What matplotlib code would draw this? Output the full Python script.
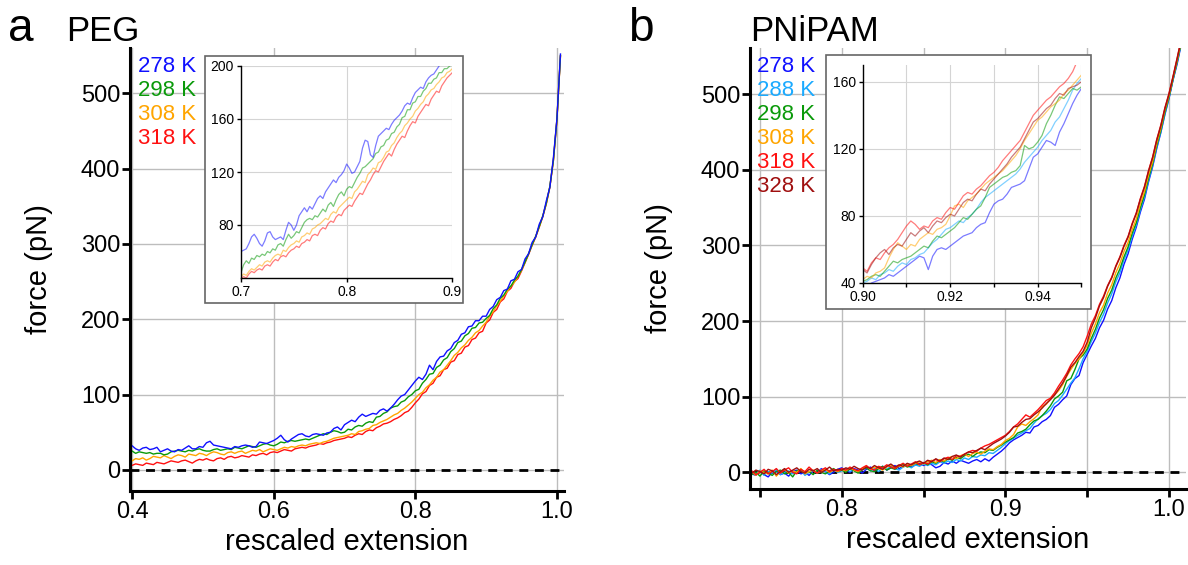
import numpy as np
import matplotlib
matplotlib.use('Agg')
import matplotlib.pyplot as plt
from matplotlib.patches import Rectangle
from matplotlib.ticker import MultipleLocator

plt.rcParams['font.family'] = ['Liberation Sans', 'DejaVu Sans']

W, H = 1188, 565


def fx(px):
    return px / W


def fy(py):
    return 1 - py / H


# ---------------- PEG (panel a), main curves, x = 0.400 .. 1.005 ----------------
peg_labels = ['278 K', '298 K', '308 K', '318 K']
peg_colors = ['#1010ff', '#0a9a0a', '#ffa500', '#ff1010']

peg_278 = [32, 28, 26, 29, 30, 27, 28, 30, 24, 26,
           28, 25, 24, 27, 26, 29, 32, 28, 28, 31,
           30, 36, 38, 33, 32, 31, 30, 29, 28, 31,
           30, 32, 33, 32, 30, 31, 37, 36, 35, 37,
           39, 42, 46, 40, 37, 41, 44, 47, 48, 45,
           44, 47, 48, 47, 46, 49, 50, 55, 57, 53,
           60, 63, 66, 64, 70, 74, 71, 73, 75, 74,
           79, 81, 78, 82, 87, 93, 98, 100, 106, 112,
           118, 123, 120, 127, 139, 133, 144, 150, 151, 158,
           161, 169, 172, 180, 182, 190, 191, 198, 198, 204,
           204, 213, 217, 226, 229, 238, 240, 251, 253, 263,
           266, 280, 287, 302, 309, 326, 336, 357, 375, 414, 466, 552]
peg_298 = [25, 22, 24, 23, 22, 23, 21, 22, 22, 20,
           21, 24, 25, 26, 25, 24, 26, 25, 27, 28,
           26, 25, 25, 27, 28, 26, 27, 28, 27, 30,
           29, 28, 30, 32, 31, 30, 32, 34, 35, 33,
           32, 34, 37, 36, 38, 39, 38, 39, 40, 41,
           40, 42, 44, 46, 48, 47, 50, 52, 51, 49,
           50, 54, 53, 57, 59, 58, 62, 64, 63, 70,
           71, 75, 77, 82, 84, 85, 90, 92, 97, 100,
           105, 107, 115, 120, 127, 128, 136, 139, 146, 149,
           157, 161, 169, 171, 178, 181, 188, 189, 195, 196,
           201, 205, 214, 219, 228, 232, 240, 244, 252, 257,
           266, 276, 287, 299, 310, 323, 337, 354, 376, 411, 465, 550]
peg_308 = [12, 15, 14, 16, 13, 15, 18, 17, 16, 19,
           17, 15, 18, 20, 19, 17, 21, 20, 19, 22,
           21, 19, 22, 24, 23, 21, 20, 23, 24, 22,
           24, 25, 22, 24, 26, 25, 27, 24, 26, 28,
           27, 26, 28, 30, 29, 31, 30, 32, 33, 32,
           34, 35, 36, 35, 37, 38, 40, 42, 43, 44,
           45, 46, 48, 47, 51, 52, 54, 55, 59, 60,
           63, 65, 67, 70, 73, 75, 79, 82, 86, 90,
           95, 100, 103, 109, 113, 119, 123, 130, 133, 139,
           145, 152, 156, 162, 166, 172, 176, 182, 185, 191,
           196, 204, 210, 218, 224, 231, 237, 244, 249, 257,
           265, 276, 287, 299, 310, 323, 337, 354, 376, 411, 465, 550]
peg_318 = [6, 8, 7, 6, 9, 8, 7, 10, 9, 8,
           10, 12, 11, 10, 12, 13, 11, 9, 12, 14,
           13, 15, 13, 12, 15, 16, 14, 17, 18, 16,
           17, 19, 18, 17, 20, 19, 21, 22, 20, 23,
           24, 23, 25, 27, 26, 25, 28, 29, 30, 29,
           31, 32, 33, 35, 34, 36, 37, 39, 40, 41,
           42, 44, 43, 46, 48, 47, 51, 53, 52, 56,
           58, 61, 62, 64, 67, 69, 72, 76, 78, 83,
           89, 94, 101, 104, 112, 115, 123, 125, 133, 135,
           143, 145, 153, 155, 163, 165, 173, 175, 182, 184,
           195, 199, 209, 213, 223, 227, 237, 241, 250, 254,
           264, 275, 286, 298, 309, 322, 336, 353, 375, 410, 464, 549]

# PEG inset, x = 0.700 .. 0.900
peg_in_278 = [60, 61, 62, 66, 71, 73, 70, 66, 64, 68,
              74, 75, 71, 69, 70, 71, 69, 76, 82, 80,
              76, 80, 87, 90, 93, 90, 94, 92, 96, 100,
              102, 100, 105, 108, 111, 114, 112, 116, 118, 121,
              126, 123, 119, 120, 124, 128, 138, 144, 143, 133,
              131, 140, 147, 149, 151, 153, 152, 156, 159, 161,
              163, 166, 170, 172, 171, 176, 180, 182, 184, 183,
              188, 191, 193, 194, 197, 200, 203, 205, 206, 207, 208]
peg_in_298 = [44, 50, 53, 51, 55, 54, 57, 56, 58, 57,
              60, 59, 62, 61, 65, 66, 64, 69, 73, 70,
              72, 75, 74, 78, 82, 84, 85, 84, 87, 86,
              89, 92, 90, 95, 97, 94, 99, 103, 105, 102,
              107, 109, 108, 112, 116, 119, 123, 124, 126, 128,
              130, 134, 135, 139, 140, 144, 145, 149, 150, 154,
              156, 161, 162, 167, 167, 172, 173, 177, 177, 181,
              183, 187, 187, 190, 191, 195, 195, 198, 198, 200, 201]
peg_in_308 = [41, 43, 42, 45, 47, 46, 48, 50, 49, 52,
              53, 52, 55, 57, 58, 57, 61, 60, 63, 65,
              66, 68, 67, 71, 72, 74, 73, 77, 78, 80,
              81, 83, 85, 84, 88, 90, 89, 93, 95, 97,
              99, 101, 100, 105, 107, 110, 113, 112, 118, 120,
              123, 122, 127, 128, 131, 135, 136, 140, 142, 146,
              149, 151, 155, 157, 160, 162, 166, 168, 171, 173,
              177, 179, 182, 183, 186, 188, 191, 192, 195, 196, 198]
peg_in_318 = [40, 41, 40, 43, 45, 44, 46, 47, 46, 49,
              50, 49, 52, 54, 53, 56, 57, 56, 59, 61,
              62, 64, 63, 66, 67, 69, 68, 72, 73, 72,
              76, 78, 77, 81, 83, 82, 86, 88, 87, 91,
              93, 95, 94, 98, 101, 104, 103, 107, 111, 114,
              118, 121, 120, 124, 128, 131, 134, 132, 137, 141,
              144, 147, 146, 151, 155, 158, 157, 162, 165, 168,
              171, 170, 175, 178, 181, 180, 185, 188, 191, 193, 195]

# ---------------- PNiPAM (panel b), main curves, x = 0.745 .. 1.010 ----------------
pni_labels = ['278 K', '288 K', '298 K', '308 K', '318 K', '328 K']
pni_colors = ['#1010ff', '#1aaaff', '#0a9a0a', '#ffa500', '#ff1010', '#a01010']

pni_278 = [-2, -4, 1, -3, -6, 0, 2, -3, -1, -5, 1, 3, -2, 0, -4, 2, -1, 5, 1, -3, 0, 4,
           6, 2, 0, 5, 3, -1, 4, 7, 2, 5, 8, 3, 6, 9, 5, 8, 11, 7, 10, 12,
           9, 12, 10, 6, 8, 13, 11, 15, 12, 16, 14, 12, 15, 17, 14, 18, 15, 20, 24, 28,
           33, 39, 43, 46, 49, 53, 52, 60, 62, 67, 70, 75, 86, 90, 96, 101, 116, 124, 128, 145,
           156, 167, 177, 191, 201, 216, 227, 244, 257, 275, 289, 308, 324, 344, 361, 384,
           404, 428, 449, 473, 494, 519, 540, 566, 590]
pni_288 = [0, -2, 3, -4, 1, -1, 4, -3, 0, 2, -2, 1, 3, -4, 0, 2, -1, 4, 1, -2, 3, 0,
           2, 5, 1, 4, 0, 3, 6, 2, 5, 1, 6, 4, 8, 5, 3, 7, 9, 6, 10, 8,
           11, 9, 12, 10, 14, 12, 15, 13, 17, 15, 19, 17, 21, 20, 23, 22, 26, 25, 29, 33,
           38, 42, 45, 49, 52, 55, 58, 65, 71, 75, 78, 83, 91, 95, 102, 110, 118, 125, 137, 150,
           160, 173, 184, 198, 209, 224, 236, 252, 264, 281, 294, 312, 327, 347, 364, 386,
           406, 430, 450, 474, 495, 519, 542, 567, 592]
pni_298 = [-3, 0, -5, 2, -1, -4, 1, 3, -2, 0, -6, 2, 4, -1, 1, -3, 3, 0, -2, 2, 5, 1,
           3, 0, 5, 2, -1, 4, 6, 2, 1, 5, 8, 3, 6, 4, 8, 11, 7, 9, 12, 10,
           13, 10, 14, 12, 16, 14, 18, 16, 20, 18, 22, 24, 21, 25, 27, 26, 30, 29, 33, 36,
           40, 43, 46, 52, 54, 57, 63, 68, 70, 75, 81, 88, 97, 101, 106, 121, 124, 136, 150, 155,
           163, 177, 189, 204, 215, 230, 241, 257, 269, 285, 298, 316, 330, 350, 367, 389,
           408, 432, 452, 476, 496, 520, 543, 568, 594]
pni_308 = [1, -4, 2, 0, -2, 3, -5, 1, 4, -1, 2, 0, 5, -2, 1, 3, -1, 2, 4, 0, 3, 1,
           4, 2, 6, 3, 1, 5, 8, 4, 7, 5, 3, 7, 10, 6, 9, 7, 11, 9, 12, 14,
           11, 14, 16, 13, 17, 15, 19, 21, 18, 22, 24, 21, 25, 27, 24, 28, 31, 30, 34, 37,
           42, 45, 50, 60, 64, 62, 67, 71, 76, 87, 90, 97, 102, 108, 116, 127, 136, 144, 150, 158,
           168, 184, 196, 211, 221, 237, 248, 264, 276, 292, 304, 321, 335, 355, 371, 393,
           411, 435, 455, 479, 498, 522, 545, 570, 596]
pni_318 = [2, -3, 0, 4, -2, 1, 5, -1, 3, 6, 0, -2, 4, 1, 7, 2, -1, 3, 6, 1, 4, 2,
           5, 3, 7, 4, 2, 6, 9, 5, 3, 8, 6, 10, 7, 5, 9, 12, 8, 11, 14, 10,
           13, 11, 15, 17, 14, 18, 20, 17, 22, 21, 24, 27, 29, 28, 32, 35, 37, 40, 43, 46,
           49, 54, 60, 64, 70, 76, 73, 78, 83, 89, 95, 98, 105, 114, 122, 131, 142, 150, 157, 166,
           180, 196, 207, 222, 233, 247, 258, 273, 285, 300, 312, 329, 343, 362, 378, 399,
           417, 440, 459, 482, 501, 524, 548, 573, 600]
pni_328 = [-1, 3, 1, -2, 4, 2, -3, 1, 5, 0, 3, 6, 1, -1, 4, 2, 5, 0, 3, 7, 2, 4,
           3, 6, 4, 8, 5, 3, 7, 5, 9, 6, 4, 8, 11, 7, 10, 8, 12, 10, 13, 15,
           12, 16, 14, 18, 15, 19, 17, 21, 23, 20, 24, 27, 26, 29, 32, 30, 34, 38, 41, 44,
           48, 53, 60, 61, 66, 70, 71, 76, 80, 85, 91, 96, 102, 110, 118, 128, 139, 145, 153, 160,
           172, 191, 204, 220, 231, 246, 257, 272, 284, 299, 311, 328, 342, 361, 377, 398,
           416, 439, 458, 481, 500, 523, 547, 572, 598]

# PNiPAM inset, x = 0.900 .. 0.950
pni_in_278 = [34, 37, 40, 41, 42, 43, 45, 44, 46, 48, 50, 52, 54, 56, 55, 48, 56, 60, 61, 60,
              62, 64, 66, 68, 69, 70, 73, 75, 76, 82, 87, 89, 90, 93, 97, 98, 99, 101, 108, 115,
              117, 121, 125, 124, 122, 130, 135, 141, 147, 152, 156]
pni_in_288 = [40, 41, 43, 42, 45, 46, 48, 47, 50, 52, 51, 54, 55, 57, 58, 61, 64, 66, 69, 72,
              73, 75, 77, 76, 79, 81, 84, 88, 91, 93, 95, 97, 99, 101, 103, 105, 108, 112, 115, 118,
              121, 125, 128, 131, 136, 139, 144, 149, 155, 159, 162]
pni_in_298 = [41, 42, 44, 45, 44, 47, 50, 53, 52, 54, 55, 56, 58, 60, 62, 61, 65, 68, 67, 69,
              71, 73, 76, 79, 78, 81, 84, 86, 91, 97, 99, 101, 103, 104, 106, 107, 110, 122, 120, 121,
              124, 128, 135, 140, 146, 151, 150, 153, 156, 155, 157]
pni_in_308 = [42, 44, 43, 46, 47, 49, 55, 60, 64, 62, 60, 63, 62, 66, 68, 70, 69, 72, 73, 75,
              80, 86, 87, 85, 89, 91, 93, 96, 99, 101, 103, 105, 107, 110, 113, 116, 120, 125, 129, 133,
              137, 139, 142, 145, 147, 149, 153, 155, 158, 161, 164]
pni_in_318 = [49, 47, 52, 55, 54, 58, 61, 63, 66, 70, 74, 77, 75, 72, 74, 73, 77, 79, 78, 82,
              85, 84, 88, 92, 94, 93, 96, 98, 101, 104, 106, 109, 113, 116, 119, 122, 125, 130, 135, 140,
              143, 146, 149, 151, 154, 157, 159, 162, 166, 172, 176]
pni_in_328 = [48, 46, 51, 55, 58, 60, 57, 61, 63, 62, 66, 70, 68, 71, 73, 70, 74, 77, 76, 79,
              81, 80, 84, 88, 90, 89, 93, 96, 95, 99, 102, 105, 108, 111, 115, 118, 121, 126, 131, 136,
              138, 141, 144, 146, 150, 153, 152, 156, 157, 158, 160]

peg_main = [peg_278, peg_298, peg_308, peg_318]
peg_inset = [peg_in_278, peg_in_298, peg_in_308, peg_in_318]
pni_main = [pni_278, pni_288, pni_298, pni_308, pni_318, pni_328]
pni_inset = [pni_in_278, pni_in_288, pni_in_298, pni_in_308, pni_in_318, pni_in_328]

fig = plt.figure(figsize=(W / 100, H / 100), dpi=100)


def style_main(ax):
    for s in ['top', 'right']:
        ax.spines[s].set_visible(False)
    for s in ['left', 'bottom']:
        ax.spines[s].set_linewidth(2.2)
    ax.tick_params(which='both', direction='out', length=5.5, width=2, labelsize=17, pad=1.5)
    ax.grid(which='both', color='#bdbdbd', lw=1)
    ax.set_axisbelow(True)
    ax.set_xlabel('rescaled extension', fontsize=21, labelpad=4)
    ax.set_ylabel('force (pN)', fontsize=21, labelpad=20)
    ax.yaxis.set_major_locator(MultipleLocator(100))
    ax.axhline(0, color='k', lw=2, ls=(0, (3.2, 2.4)), zorder=1)


def style_inset(ax):
    for s in ['top', 'right']:
        ax.spines[s].set_visible(False)
    for s in ['left', 'bottom']:
        ax.spines[s].set_linewidth(1.0)
    ax.tick_params(which='both', direction='out', length=3, width=1, labelsize=10, pad=2)
    ax.grid(which='both', color='#d4d4d4', lw=0.8)
    ax.set_axisbelow(True)
    ax.set_zorder(3)


# ----- panel a -----
axa = fig.add_axes([fx(130), fy(491), fx(564) - fx(130), fy(48) - fy(491)])
for ys, c in zip(peg_main[::-1], peg_colors[::-1]):
    axa.plot(np.linspace(0.400, 1.005, len(ys)), ys, color=c, lw=1.0, zorder=2)
axa.set_xlim(0.397, 1.010)
axa.set_ylim(-28, 560)
axa.set_xticks([0.4, 0.6, 0.8, 1.0])
axa.set_xticklabels(['0.4', '0.6', '0.8', '1.0'])
style_main(axa)

fig.patches.append(Rectangle((fx(205), fy(303)), fx(463) - fx(205), fy(56) - fy(303),
                             transform=fig.transFigure, facecolor='white',
                             edgecolor='#666666', lw=1.2, zorder=2))
ina = fig.add_axes([fx(241), fy(278), fx(452.3) - fx(241), fy(66) - fy(278)])
for ys, c in zip(peg_inset[::-1], peg_colors[::-1]):
    ina.plot(np.linspace(0.700, 0.900, len(ys)), ys, color=c, lw=0.9, alpha=0.55)
ina.set_xlim(0.7, 0.9)
ina.set_ylim(40, 200)
ina.set_xticks([0.7, 0.8, 0.9])
ina.set_xticklabels(['0.7', '0.8', '0.9'])
ina.set_yticks([80, 120, 160, 200])
style_inset(ina)

for i, (lab, c) in enumerate(zip(peg_labels, peg_colors)):
    fig.text(fx(138), fy(66 + 24 * i), lab, color=c, fontsize=16, va='center', ha='left')

# ----- panel b -----
axb = fig.add_axes([fx(750), fy(489), fx(1186) - fx(750), fy(48) - fy(489)])
for ys, c in zip(pni_main, pni_colors):
    axb.plot(np.linspace(0.745, 1.010, len(ys)), ys, color=c, lw=1.0, zorder=2)
axb.set_xlim(0.7439, 1.0104)
axb.set_ylim(-22, 561)
axb.set_xticks([0.8, 0.9, 1.0])
axb.set_xticklabels(['0.8', '0.9', '1.0'])
axb.xaxis.set_minor_locator(MultipleLocator(0.05))
style_main(axb)

fig.patches.append(Rectangle((fx(826), fy(309)), fx(1090.7) - fx(826), fy(55) - fy(309),
                             transform=fig.transFigure, facecolor='white',
                             edgecolor='#666666', lw=1.2, zorder=2))
inb = fig.add_axes([fx(862.7), fy(283), fx(1081.4) - fx(862.7), fy(65) - fy(283)])
for ys, c in zip(pni_inset, pni_colors):
    inb.plot(np.linspace(0.900, 0.950, len(ys)), ys, color=c, lw=0.9, alpha=0.55)
inb.set_xlim(0.90, 0.95)
inb.set_ylim(40, 170)
inb.set_xticks([0.90, 0.92, 0.94])
inb.set_xticklabels(['0.90', '0.92', '0.94'])
inb.xaxis.set_minor_locator(MultipleLocator(0.01))
inb.set_yticks([40, 80, 120, 160])
style_inset(inb)

for i, (lab, c) in enumerate(zip(pni_labels, pni_colors)):
    fig.text(fx(757), fy(66 + 24 * i), lab, color=c, fontsize=16, va='center', ha='left')

# panel letters and titles
fig.text(fx(8), fy(41), 'a', fontsize=33, va='baseline')
fig.text(fx(66), fy(41), 'PEG', fontsize=25, va='baseline')
fig.text(fx(628), fy(41), 'b', fontsize=33, va='baseline')
fig.text(fx(750), fy(41), 'PNiPAM', fontsize=25, va='baseline')

fig.savefig('out.png', dpi=100)
